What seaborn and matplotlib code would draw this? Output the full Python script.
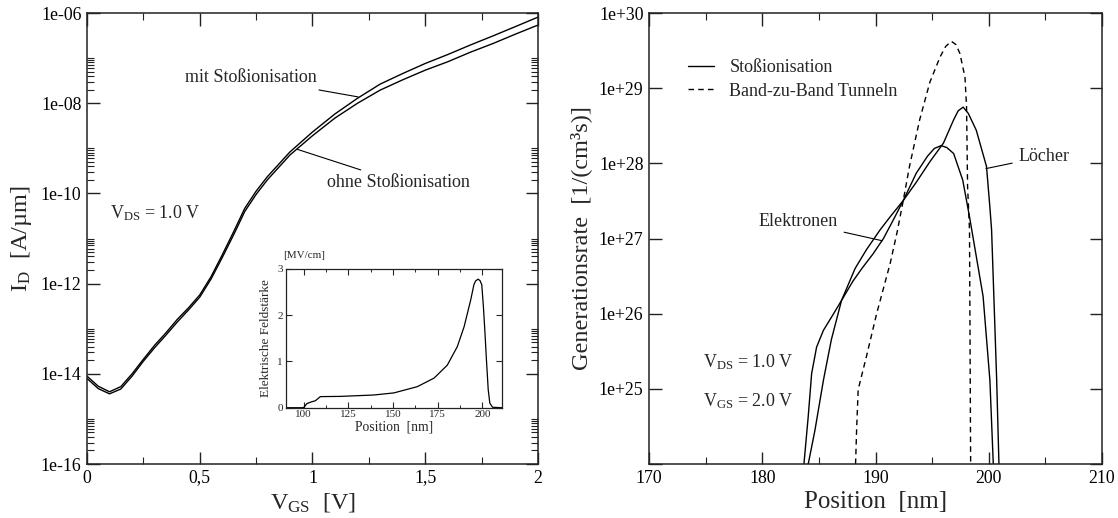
import numpy as np
import pandas as pd
import matplotlib
matplotlib.use('Agg')
import matplotlib.pyplot as plt
from matplotlib.lines import Line2D
from matplotlib.ticker import FixedLocator, FuncFormatter, MultipleLocator, NullFormatter
import seaborn as sns

# ---------------- data: left panel (I_D vs V_GS) ----------------
vgs = [0.0, 0.05, 0.1, 0.15, 0.2, 0.25, 0.3, 0.35, 0.4, 0.45, 0.5, 0.55, 0.6, 0.65,
       0.7, 0.75, 0.8, 0.9, 1.0, 1.1, 1.2, 1.3, 1.4, 1.5, 1.6, 1.7, 1.8, 1.9, 2.0]
id_ohne = [7.9e-15, 4.7e-15, 3.6e-15, 4.6e-15, 8.9e-15, 1.9e-14, 3.8e-14, 7.2e-14,
           1.4e-13, 2.6e-13, 5.0e-13, 1.26e-12, 3.8e-12, 1.2e-11, 4.0e-11, 9.5e-11,
           2.0e-10, 7.1e-10, 1.9e-9, 4.7e-9, 1.0e-8, 1.95e-8, 3.3e-8, 5.4e-8,
           8.3e-8, 1.35e-7, 2.1e-7, 3.4e-7, 5.4e-7]
id_mit = [8.9e-15, 5.3e-15, 4.0e-15, 5.2e-15, 1.0e-14, 2.1e-14, 4.3e-14, 8.1e-14,
          1.6e-13, 2.9e-13, 5.6e-13, 1.42e-12, 4.35e-12, 1.4e-11, 4.7e-11, 1.12e-10,
          2.35e-10, 8.3e-10, 2.3e-9, 5.8e-9, 1.29e-8, 2.65e-8, 4.55e-8, 7.6e-8,
          1.2e-7, 1.95e-7, 3.1e-7, 5.0e-7, 8.1e-7]

# inset: electric field
inset_pos = [90, 100, 101.9, 104.7, 106.6, 109.4, 120.6, 139.3, 150.5, 163.6, 173,
             180.4, 186, 189.8, 193.5, 195.3, 196.2, 197.6, 198.7, 199.7, 200.6,
             201.5, 202.3, 203.3, 204.2, 205.7, 211]
inset_field = [0, 0, 0.09, 0.13, 0.15, 0.24, 0.245, 0.275, 0.32, 0.455, 0.64,
               0.92, 1.32, 1.75, 2.33, 2.66, 2.74, 2.78, 2.75, 2.66, 2.19,
               1.61, 1.04, 0.39, 0.10, 0.01, 0]

# ---------------- data: right panel (generation rate) ----------------
pos_elektronen = [183.68, 184.06, 184.36, 184.8, 185.4, 186.3, 187.0, 188.0, 188.8,
                  189.8, 190.7, 191.6, 192.45, 193.6, 194.6, 195.2, 195.8, 196.3,
                  196.9, 197.7, 198.3, 198.5, 199.5, 200.1, 200.4]
gen_elektronen = [1.0e24, 4.3e24, 1.6e25, 3.6e25, 6.0e25, 1.0e26, 1.5e26, 2.7e26,
                  4.0e26, 6.3e26, 1.0e27, 1.8e27, 3.2e27, 7.4e27, 1.25e28, 1.58e28,
                  1.72e28, 1.62e28, 1.35e28, 6.0e27, 1.95e27, 1.3e27, 1.7e26,
                  1.3e25, 1.0e24]
pos_loecher = [184.06, 184.65, 185.4, 186.1, 187.0, 188.2, 189.2, 190.4, 191.3,
               192.45, 193.6, 194.8, 196.0, 196.9, 197.3, 197.74, 198.2, 198.9,
               199.8, 200.1, 200.25, 200.45, 200.7, 200.9]
gen_loecher = [1.0e24, 2.8e24, 1.3e25, 4.5e25, 1.5e26, 4.0e26, 7.1e26, 1.3e27,
               1.95e27, 3.2e27, 5.6e27, 1.05e28, 1.86e28, 3.8e28, 5.0e28, 5.6e28,
               4.6e28, 2.75e28, 9.1e27, 2.6e27, 1.3e27, 1.7e26, 1.3e25, 1.0e24]
pos_btbt = [188.24, 188.33, 188.47, 189.2, 190.1, 191.3, 191.9, 192.45, 193.0,
            193.9, 194.8, 195.7, 196.2, 196.7, 197.1, 197.45, 197.9, 198.04,
            198.13, 198.3, 198.4]
gen_btbt = [1.0e24, 2.8e24, 9.8e24, 2.7e25, 1.0e26, 4.7e26, 1.2e27, 3.2e27, 9.1e27,
            3.8e28, 1.2e29, 2.6e29, 3.6e29, 4.2e29, 3.8e29, 2.9e29, 1.4e29, 5.6e28,
            4.9e27, 1.3e27, 1.0e24]

# ---------------- style ----------------
sns.set_theme(style='ticks')
plt.rcParams['font.family'] = ['Liberation Serif', 'DejaVu Serif']
plt.rcParams['mathtext.fontset'] = 'custom'
plt.rcParams['mathtext.rm'] = 'Liberation Serif'
plt.rcParams['mathtext.it'] = 'Liberation Serif:italic'
plt.rcParams['axes.linewidth'] = 1.1
plt.rcParams['axes.edgecolor'] = '#222222'

fig = plt.figure(figsize=(11.18, 5.18), dpi=100)
ax1 = fig.add_axes([0.0778, 0.1042, 0.4034, 0.8707])
ax2 = fig.add_axes([0.5805, 0.1042, 0.4052, 0.8707])
axin = fig.add_axes([0.2555, 0.2129, 0.1935, 0.2678])

LW = 1.0
TICK_FS = 12.8
TXT_FS = 13
LAB_FS = 17.5


def exp_fmt(v, _):
    if v <= 0:
        return ''
    e = int(round(np.log10(v)))
    return f'1e{e:+03d}'


# ---------------- left panel ----------------
df_left = pd.DataFrame({'vgs': vgs * 2,
                        'id': id_mit + id_ohne,
                        'case': ['mit'] * len(vgs) + ['ohne'] * len(vgs)})
sns.lineplot(data=df_left, x='vgs', y='id', units='case', estimator=None,
             color='black', lw=LW, ax=ax1, sort=False)
ax1.set_yscale('log')
ax1.set_xlim(0, 2)
ax1.set_ylim(1e-16, 1e-6)
ax1.xaxis.set_major_locator(MultipleLocator(0.5))
ax1.xaxis.set_minor_locator(MultipleLocator(0.25))
ax1.xaxis.set_major_formatter(FuncFormatter(
    lambda v, _: ('%g' % v).replace('.', ',')))
ax1.yaxis.set_major_locator(FixedLocator([10.0 ** e for e in range(-16, -5, 2)]))
ax1.yaxis.set_minor_locator(FixedLocator(
    [m * 10.0 ** e for e in range(-16, -7, 2) for m in range(2, 11)]))
ax1.yaxis.set_major_formatter(FuncFormatter(exp_fmt))
ax1.yaxis.set_minor_formatter(NullFormatter())
ax1.tick_params(which='both', direction='in', top=True, right=True,
                labelsize=TICK_FS, colors='#222222', labelcolor='black')
ax1.tick_params(which='major', length=9, width=1.0, pad=4)
ax1.tick_params(which='minor', length=5, width=0.8)
ax1.set_xlabel(r'$\mathregular{V_{GS}}$  [V]', fontsize=LAB_FS, labelpad=3)
ax1.set_ylabel(r'$\mathregular{I_{D}}$  [A/µm]', fontsize=LAB_FS, labelpad=5)

ax1.annotate('mit Stoßionisation', xy=(1.202, 10 ** -7.86), xytext=(1.02, 10 ** -7.44),
             ha='right', va='center', fontsize=TXT_FS,
             arrowprops=dict(arrowstyle='-', lw=0.8, color='black',
                             shrinkA=1, shrinkB=0))
ax1.annotate('ohne Stoßionisation', xy=(0.931, 10 ** -9.02), xytext=(1.064, 10 ** -9.75),
             ha='left', va='center', fontsize=TXT_FS,
             arrowprops=dict(arrowstyle='-', lw=0.8, color='black',
                             shrinkA=1, shrinkB=0))
ax1.text(0.102, 10 ** -10.43, r'$\mathregular{V_{DS}}$ = 1.0 V', ha='left', va='center',
         fontsize=TXT_FS)

# ---------------- inset ----------------
sns.lineplot(x=inset_pos, y=inset_field, ax=axin, color='black', lw=0.9,
             estimator=None, sort=False)
axin.set_xlim(90, 211)
axin.set_ylim(0, 3)
axin.xaxis.set_major_locator(FixedLocator([100, 125, 150, 175, 200]))
axin.xaxis.set_minor_locator(FixedLocator([112.5, 137.5, 162.5, 187.5]))
axin.yaxis.set_major_locator(MultipleLocator(1))
axin.tick_params(which='both', direction='in', top=True, right=True, labelsize=8,
                 pad=2)
axin.tick_params(which='major', length=4, width=0.8)
axin.tick_params(which='minor', length=2.5, width=0.7)
for s in axin.spines.values():
    s.set_linewidth(0.9)
axin.set_xlabel('Position  [nm]', fontsize=9.8, labelpad=1)
axin.set_ylabel('Elektrische Feldstärke', fontsize=9.5, labelpad=4)
axin.text(-0.01, 1.10, '[MV/cm]', transform=axin.transAxes, ha='left', va='center',
          fontsize=8)

# ---------------- right panel ----------------
df_right = pd.DataFrame({
    'pos': pos_elektronen + pos_loecher + pos_btbt,
    'gen': gen_elektronen + gen_loecher + gen_btbt,
    'curve': (['Elektronen'] * len(pos_elektronen) + ['Löcher'] * len(pos_loecher)
              + ['BTBT'] * len(pos_btbt)),
})
sns.lineplot(data=df_right[df_right.curve != 'BTBT'], x='pos', y='gen', units='curve',
             estimator=None, color='black', lw=LW, ax=ax2, sort=False)
sns.lineplot(data=df_right[df_right.curve == 'BTBT'], x='pos', y='gen',
             estimator=None, color='black', lw=LW, ax=ax2, sort=False,
             linestyle=(0, (4, 3)))
ax2.set_yscale('log')
ax2.set_xlim(170, 210)
ax2.set_ylim(1e24, 1e30)
ax2.xaxis.set_major_locator(MultipleLocator(10))
ax2.xaxis.set_minor_locator(MultipleLocator(5))
ax2.yaxis.set_major_locator(FixedLocator([10.0 ** e for e in range(24, 31)]))
ax2.yaxis.set_minor_locator(FixedLocator([]))
ax2.yaxis.set_major_formatter(FuncFormatter(
    lambda v, p: '' if v < 1e24 * 5 else exp_fmt(v, p)))
ax2.tick_params(which='both', direction='in', top=True, right=True,
                labelsize=TICK_FS, colors='#222222', labelcolor='black')
ax2.tick_params(which='major', length=9, width=1.0, pad=4)
ax2.tick_params(which='minor', length=5, width=0.8)
ax2.set_xlabel('Position  [nm]', fontsize=LAB_FS + 0.5, labelpad=3)
ax2.set_ylabel('Generationsrate  [1/(cm³s)]', fontsize=LAB_FS, labelpad=5)

handles = [Line2D([], [], color='black', lw=LW),
           Line2D([], [], color='black', lw=LW, linestyle=(0, (4, 3)))]
ax2.legend(handles, ['Stoßionisation', 'Band-zu-Band Tunneln'], loc='upper left',
           bbox_to_anchor=(0.086, 0.897), frameon=False, handlelength=1.45,
           handletextpad=0.85, labelspacing=0.35, fontsize=TXT_FS, borderpad=0,
           borderaxespad=0)

ax2.annotate('Elektronen', xy=(190.6, 10 ** 26.97), xytext=(186.7, 10 ** 27.22),
             ha='right', va='center', fontsize=TXT_FS,
             arrowprops=dict(arrowstyle='-', lw=0.8, color='black',
                             shrinkA=2, shrinkB=0))
ax2.annotate('Löcher', xy=(199.75, 10 ** 27.93), xytext=(202.6, 10 ** 28.09),
             ha='left', va='center', fontsize=TXT_FS,
             arrowprops=dict(arrowstyle='-', lw=0.8, color='black',
                             shrinkA=2, shrinkB=0))
ax2.text(174.8, 10 ** 25.35, r'$\mathregular{V_{DS}}$ = 1.0 V', ha='left', va='center',
         fontsize=TXT_FS)
ax2.text(174.8, 10 ** 24.83, r'$\mathregular{V_{GS}}$ = 2.0 V', ha='left', va='center',
         fontsize=TXT_FS)

fig.savefig('out.png', dpi=100)
